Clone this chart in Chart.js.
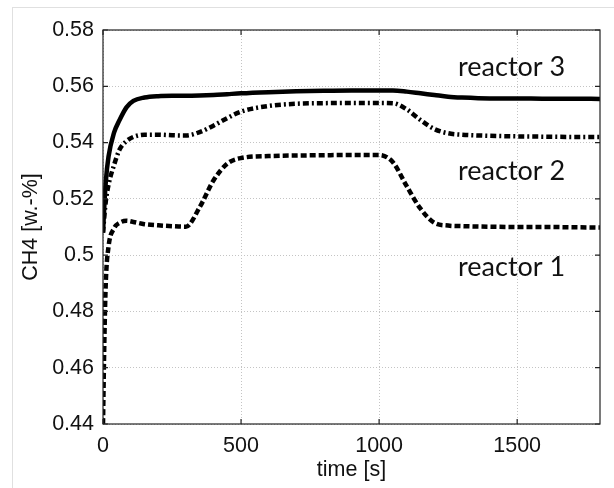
<!DOCTYPE html>
<html>
<head>
<meta charset="utf-8">
<script src="https://cdn.jsdelivr.net/npm/chart.js@4"></script>
<style>
  body{margin:0;background:#fff;}
  #wrap{position:relative;width:614px;height:488px;overflow:hidden;}
  #frame{position:absolute;left:12px;top:7px;width:700px;height:600px;border-top:1px solid #e0e0e0;border-left:1px solid #e0e0e0;}
  canvas{position:absolute;left:0;top:0;}
</style>
</head>
<body>
<div id="wrap">
  <div id="frame"></div>
  <canvas id="chart" width="614" height="488"></canvas>
</div>
<script>
// Data
const timeS=[0,5,10,20,40,60,85,110,150,200,250,300,350,400,450,500,600,700,800,900,1000,1050,1100,1150,1200,1250,1300,1400,1500,1600,1700,1800];
const reactor1=[0.44,0.47,0.49,0.503,0.5095,0.5115,0.5122,0.5118,0.511,0.5106,0.5103,0.5101,0.517,0.5265,0.5325,0.5345,0.5352,0.5354,0.5355,0.5356,0.5356,0.533,0.5245,0.5165,0.5115,0.5105,0.5103,0.5101,0.51,0.51,0.5099,0.5098];
const reactor2=[0.508,0.514,0.519,0.525,0.532,0.5375,0.5405,0.542,0.5428,0.5428,0.5426,0.5425,0.5437,0.546,0.5487,0.551,0.553,0.5538,0.554,0.5541,0.5541,0.554,0.5518,0.548,0.5448,0.5433,0.5428,0.5424,0.5422,0.5421,0.542,0.542];
const reactor3=[0.508,0.518,0.526,0.535,0.5435,0.548,0.5525,0.5548,0.556,0.5565,0.5566,0.5566,0.5567,0.5569,0.5572,0.5575,0.5579,0.5582,0.5584,0.5585,0.5585,0.5585,0.5581,0.5575,0.5569,0.5563,0.556,0.5557,0.5557,0.5556,0.5556,0.5555];
const xTicks=[0,500,1000,1500];
const yTicks=[0.44,0.46,0.48,0.5,0.52,0.54,0.56,0.58];
const seriesLabels=['reactor 1','reactor 2','reactor 3'];
const labelPos=[[1480,0.4958],[1480,0.5299],[1480,0.5669]];

// Utilities
function pts(ys){ return timeS.map((t,i)=>({x:t,y:ys[i]})); }
function fixTicks(vals){ return function(scale){ scale.ticks=vals.map(v=>({value:v})); }; }

// Box, inner ticks, curve labels
const boxPlugin={
  id:'box',
  afterDraw(chart){
    const ctx=chart.ctx, a=chart.chartArea, sx=chart.scales.x, sy=chart.scales.y;
    ctx.save();
    ctx.strokeStyle='#222'; ctx.lineWidth=1.2;
    ctx.strokeRect(a.left,a.top,a.right-a.left,a.bottom-a.top);
    ctx.beginPath();
    xTicks.forEach(v=>{
      const px=sx.getPixelForValue(v);
      ctx.moveTo(px,a.bottom); ctx.lineTo(px,a.bottom-5);
      ctx.moveTo(px,a.top); ctx.lineTo(px,a.top+5);
    });
    yTicks.forEach(v=>{
      const py=sy.getPixelForValue(v);
      ctx.moveTo(a.left,py); ctx.lineTo(a.left+5,py);
      ctx.moveTo(a.right,py); ctx.lineTo(a.right-5,py);
    });
    ctx.stroke();
    ctx.fillStyle='#111';
    ctx.font='27px Lato';
    ctx.textAlign='center'; ctx.textBaseline='middle';
    seriesLabels.forEach((s,i)=>{
      ctx.fillText(s,sx.getPixelForValue(labelPos[i][0]),sy.getPixelForValue(labelPos[i][1]));
    });
    ctx.restore();
  }
};

const lineBase={borderColor:'#000',borderWidth:4.5,pointRadius:0,fill:false,cubicInterpolationMode:'monotone'};
const axisFont={family:'Liberation Sans',size:21.5};

new Chart(document.getElementById('chart').getContext('2d'),{
  type:'line',
  data:{datasets:[
    Object.assign({label:seriesLabels[0],data:pts(reactor1),borderDash:[6,3]},lineBase),
    Object.assign({label:seriesLabels[1],data:pts(reactor2),borderDash:[6,3,2,3]},lineBase),
    Object.assign({label:seriesLabels[2],data:pts(reactor3)},lineBase)
  ]},
  options:{
    responsive:false,
    animation:false,
    layout:{padding:{left:0,right:14,top:30,bottom:0}},
    plugins:{legend:{display:false},tooltip:{enabled:false}},
    scales:{
      x:{
        type:'linear',min:0,max:1800,
        afterBuildTicks:fixTicks(xTicks),
        afterFit(s){ s.height=64; },
        grid:{color:'#c4c4c4',lineWidth:1,drawTicks:false},
        border:{display:false,dash:[1,2]},
        ticks:{color:'#111',font:axisFont,padding:9,maxRotation:0,callback:v=>String(v)},
        title:{display:true,text:'time [s]',color:'#111',font:axisFont,padding:{top:0,bottom:5}}
      },
      y:{
        type:'linear',min:0.44,max:0.58,
        afterBuildTicks:fixTicks(yTicks),
        afterFit(s){ s.width=103; },
        grid:{color:'#c4c4c4',lineWidth:1,drawTicks:false},
        border:{display:false,dash:[1,2]},
        ticks:{color:'#111',font:axisFont,padding:9,
          callback:v=>String(Number(v.toFixed(2)))},
        title:{display:true,text:'CH4 [w.-%]',color:'#111',font:axisFont,padding:{top:18,bottom:0}}
      }
    }
  },
  plugins:[boxPlugin]
});
</script>
</body>
</html>
